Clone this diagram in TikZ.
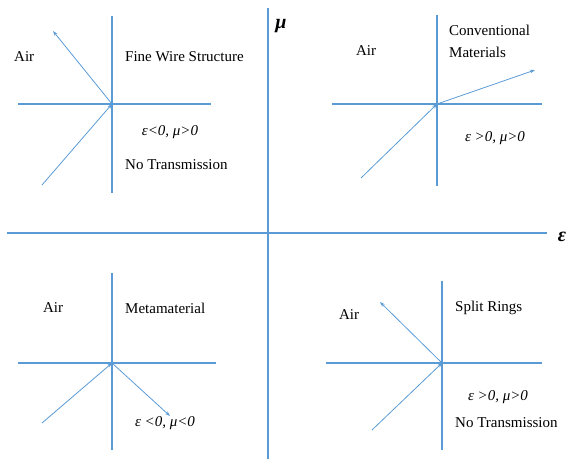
\documentclass[tikz,border=0pt]{standalone}
\usepackage{fontspec}
\setmainfont{Liberation Serif}
\usetikzlibrary{arrows.meta}
\definecolor{lineblue}{RGB}{91,155,213}

\begin{document}
\begin{tikzpicture}[x=1pt,y=-1pt,>={Stealth[length=5pt,width=3.5pt]},
  every node/.style={font=\fontsize{15}{18}\selectfont,inner sep=0pt},
  axis/.style={draw=lineblue,line width=1.1pt},
  ray/.style={->,draw=lineblue,line width=0.8pt},
  axislabel/.style={font=\fontsize{20}{24}\selectfont\bfseries\itshape}]
\useasboundingbox (0,0) rectangle (569,459);
% ---------- main axes: epsilon and mu ----------
\draw[axis] (268,8) -- (268,459);
\draw[axis] (7,233) -- (547,233);
\node[axislabel] (mu) at (281,26) {μ};
\node[axislabel] (eps) at (562,237) {ε};
% ---------- top left: fine wire structure ----------
\coordinate (o1) at (112,104);
\coordinate (in1) at (42,185);
\coordinate (out1) at (53,31);
\draw[axis] (112,16) -- (112,193);
\draw[axis] (18,104) -- (211,104);
\draw[ray] (in1) -- (o1);
\draw[ray] (o1) -- (out1);
\node[anchor=west] (air1) at (14,57) {Air};
\node[anchor=west] (wire) at (125,57) {Fine Wire Structure};
\node (sign1) at (170,132) {\textit{ε<0, μ>0}};
\node[anchor=west] (none1) at (125,165) {No Transmission};
% ---------- top right: conventional materials ----------
\coordinate (o2) at (437,104);
\coordinate (in2) at (361,178);
\coordinate (out2) at (535,70);
\draw[axis] (437,15) -- (437,186);
\draw[axis] (332,104) -- (542,104);
\draw[ray] (in2) -- (o2);
\draw[ray] (o2) -- (out2);
\node (air2) at (366,51) {Air};
\node[anchor=west,align=left,font=\fontsize{15}{22}\selectfont] (conv) at (449,41) {Conventional\\Materials};
\node (sign2) at (495,138) {\textit{ε >0, μ>0}};
% ---------- bottom left: metamaterial ----------
\coordinate (o3) at (112,363);
\coordinate (in3) at (42,423);
\coordinate (out3) at (170,416);
\draw[axis] (112,273) -- (112,450);
\draw[axis] (18,363) -- (216,363);
\draw[ray] (in3) -- (o3);
\draw[ray] (o3) -- (out3);
\node (air3) at (53,308) {Air};
\node[anchor=west] (meta) at (125,308) {Metamaterial};
\node (sign3) at (165,423) {\textit{ε <0, μ<0}};
% ---------- bottom right: split rings ----------
\coordinate (o4) at (442,363);
\coordinate (in4) at (372,430);
\coordinate (out4) at (380,302);
\draw[axis] (442,281) -- (442,450);
\draw[axis] (326,363) -- (542,363);
\draw[ray] (in4) -- (o4);
\draw[ray] (o4) -- (out4);
\node (air4) at (349,315) {Air};
\node[anchor=west] (rings) at (455,308) {Split Rings};
\node (sign4) at (498,397) {\textit{ε >0, μ>0}};
\node[anchor=west] (none4) at (455,423) {No Transmission};
\end{tikzpicture}
\end{document}
